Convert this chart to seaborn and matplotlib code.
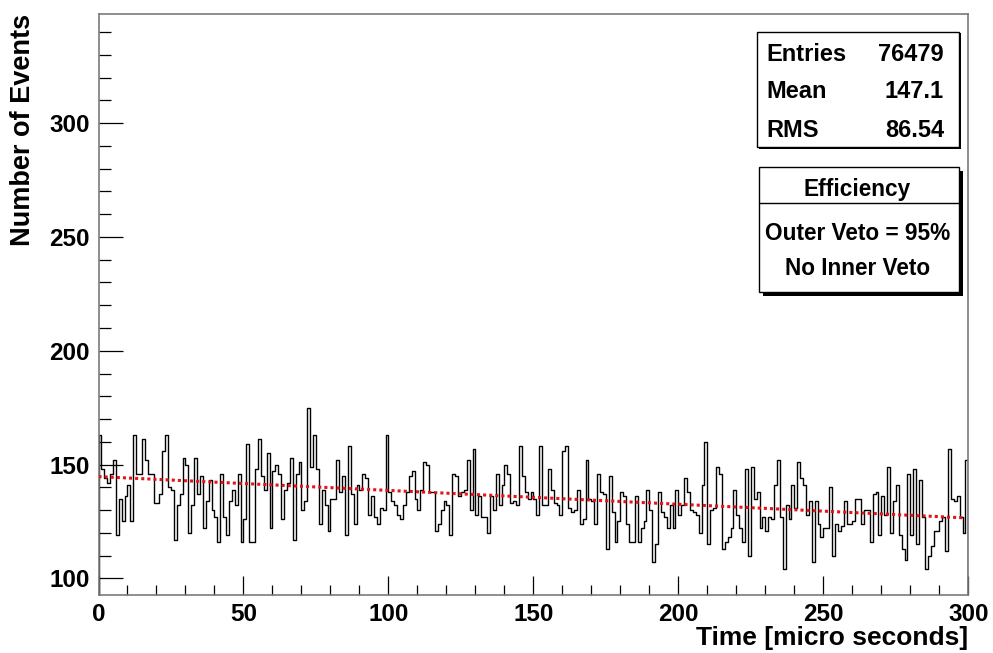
import numpy as np
import pandas as pd
import matplotlib
matplotlib.use("Agg")
import matplotlib.pyplot as plt
import seaborn as sns
from matplotlib.patches import Rectangle
from matplotlib.lines import Line2D

# ---------------- data ----------------
counts_000_049 = [163, 148, 144, 142, 146, 152, 119, 135, 125, 136,
                  141, 125, 163, 146, 146, 161, 152, 146, 146, 133,
                  133, 137, 156, 163, 140, 139, 117, 132, 137, 153,
                  150, 120, 132, 153, 137, 145, 122, 134, 143, 130,
                  127, 116, 146, 127, 119, 134, 139, 132, 146, 116]
counts_050_099 = [126, 159, 116, 116, 148, 161, 145, 139, 155, 122,
                  147, 150, 146, 126, 139, 142, 153, 117, 146, 151,
                  130, 134, 175, 149, 163, 148, 124, 139, 132, 121,
                  135, 135, 152, 138, 145, 119, 158, 137, 124, 141,
                  139, 146, 144, 128, 136, 127, 124, 131, 130, 163]
counts_100_149 = [138, 134, 132, 128, 126, 132, 138, 145, 147, 135,
                  130, 139, 151, 150, 138, 138, 121, 124, 130, 134,
                  132, 119, 146, 145, 136, 138, 139, 152, 130, 157,
                  128, 136, 127, 127, 120, 136, 130, 146, 132, 141,
                  150, 146, 133, 134, 132, 158, 145, 138, 135, 138]
counts_150_199 = [135, 128, 158, 132, 132, 148, 139, 133, 132, 128,
                  156, 158, 131, 129, 130, 139, 124, 126, 152, 135,
                  134, 124, 146, 138, 137, 113, 145, 129, 116, 125,
                  138, 136, 124, 116, 116, 136, 116, 122, 125, 139,
                  130, 107, 115, 138, 129, 127, 122, 132, 122, 139]
counts_200_249 = [128, 132, 144, 138, 130, 129, 128, 120, 141, 160,
                  115, 130, 131, 149, 146, 113, 116, 118, 122, 139,
                  128, 122, 116, 148, 110, 149, 135, 138, 122, 127,
                  121, 127, 126, 141, 152, 127, 104, 132, 126, 141,
                  131, 151, 144, 141, 128, 134, 107, 134, 124, 118]
counts_250_299 = [122, 122, 140, 110, 124, 121, 123, 134, 124, 124,
                  125, 135, 135, 124, 130, 130, 116, 137, 138, 119,
                  136, 128, 149, 120, 134, 141, 119, 113, 108, 146,
                  119, 148, 115, 143, 127, 104, 110, 114, 121, 121,
                  125, 127, 112, 157, 135, 134, 136, 127, 120, 152]

time_start = 0.0
bin_width = 1.0

fit_time = [0.0, 298.0]
fit_events = [144.7, 126.6]

x_ticks = [0, 50, 100, 150, 200, 250, 300]
y_ticks = [100, 150, 200, 250, 300]

stats_labels = ["Entries", "Mean", "RMS"]
stats_values = ["76479", "147.1", "86.54"]
legend_title = "Efficiency"
legend_lines = ["Outer Veto = 95%", "No Inner Veto"]

x_title = "Time [micro seconds]"
y_title = "Number of Events"

# ---------------- build table ----------------
counts = np.array(counts_000_049 + counts_050_099 + counts_100_149 +
                  counts_150_199 + counts_200_249 + counts_250_299, dtype=float)
edges = time_start + bin_width * np.arange(len(counts) + 1)
centers = edges[:-1] + bin_width / 2
df = pd.DataFrame({"time": centers, "events": counts})

# ---------------- style ----------------
sns.set_style("white")
plt.rcParams["font.family"] = ["Liberation Sans", "DejaVu Sans"]
plt.rcParams["font.weight"] = "bold"
for key in ["text.color", "axes.labelcolor", "xtick.color", "ytick.color"]:
    plt.rcParams[key] = "black"

W, H = 993, 653
fig = plt.figure(figsize=(W / 100, H / 100), dpi=100)
fig.patch.set_facecolor("white")
L, R, T, B = 98.5, 968.3, 14.0, 595.0
ax = fig.add_axes([L / W, 1 - B / H, (R - L) / W, (B - T) / H])

YMIN, YMAX = 92.66, 348.0

sns.histplot(data=df, x="time", weights="events",
             binwidth=bin_width, binrange=(float(edges[0]), float(edges[-1])),
             element="step", fill=False, color="black", linewidth=1.0, ax=ax)
# closing verticals at both ends of the histogram, down to the frame
ax.vlines([edges[0], edges[-1]], YMIN, [counts[0], counts[-1]],
          color="black", linewidth=1.0)

sns.lineplot(x=fit_time, y=fit_events, color="#e3131b", linewidth=2.2,
             linestyle=(0, (1, 1)), ax=ax, zorder=5)

ax.set_xlim(edges[0], edges[-1])
ax.set_ylim(YMIN, YMAX)

ax.set_xticks(x_ticks)
ax.set_xticks(np.arange(x_ticks[0], x_ticks[-1] + 1, 10), minor=True)
ax.set_yticks(y_ticks)
ax.set_yticks(np.arange(y_ticks[0], 341, 10), minor=True)
ax.set_xticklabels([str(v) for v in x_ticks])
ax.set_yticklabels([str(v) for v in y_ticks])

ax.tick_params(axis="both", which="both", direction="in", color="black",
               labelcolor="black", width=0.9, labelsize=17.5,
               bottom=True, left=True, top=False, right=False)
ax.tick_params(axis="y", which="major", length=17, pad=6.5)
ax.tick_params(axis="y", which="minor", length=8.6)
ax.tick_params(axis="x", which="major", length=13.7, pad=6)
ax.tick_params(axis="x", which="minor", length=7.2)
for lab in ax.get_xticklabels() + ax.get_yticklabels():
    lab.set_fontweight("bold")

for sp in ax.spines.values():
    sp.set_color("#7a7a7a")
    sp.set_linewidth(1.2)

ax.set_xlabel(x_title, fontsize=19, fontweight="bold", loc="right",
              color="black")
ax.xaxis.set_label_coords(1.0, -(626 - B) / (B - T))
ax.set_ylabel(y_title, fontsize=19.5, fontweight="bold", loc="top",
              color="black")
ax.yaxis.set_label_coords(-(L - 36) / (R - L), 1.0)


# ---------------- stat / info boxes (pixel helpers) ----------------
def fx(px):
    return px / W


def fy(py):
    return 1 - py / H


def box(x0, y0, x1, y1, shadow):
    if shadow > 0:
        fig.add_artist(Rectangle((fx(x0 + shadow), fy(y1 + shadow)),
                                 fx(x1 - x0), (y1 - y0) / H,
                                 transform=fig.transFigure, facecolor="black",
                                 edgecolor="black", linewidth=0, zorder=10))
    fig.add_artist(Rectangle((fx(x0), fy(y1)), fx(x1 - x0), (y1 - y0) / H,
                             transform=fig.transFigure, facecolor="white",
                             edgecolor="black", linewidth=1.0, zorder=11))


box(757.3, 31.7, 959.3, 147.3, 1.5)
row_baselines = [60.7, 98.5, 136.7]
for lab, val, yb in zip(stats_labels, stats_values, row_baselines):
    fig.text(fx(766.7), fy(yb), lab, fontsize=17, fontweight="bold",
             ha="left", va="baseline", zorder=12, color="black")
    fig.text(fx(944.0), fy(yb), val, fontsize=17, fontweight="bold",
             ha="right", va="baseline", zorder=12, color="black")

box(759.3, 167.3, 959.3, 291.7, 4)
fig.add_artist(Line2D([fx(759.3), fx(959.3)], [fy(202.7), fy(202.7)],
                      transform=fig.transFigure, color="black",
                      linewidth=1.0, zorder=12))
fig.text(fx(857.5), fy(196.0), legend_title, fontsize=16.3, fontweight="bold",
         ha="center", va="baseline", zorder=12, color="black")
for txt, yb in zip(legend_lines, [240.0, 275.5]):
    fig.text(fx(857.5), fy(yb), txt, fontsize=16.3, fontweight="bold",
             ha="center", va="baseline", zorder=12, color="black")

fig.savefig("out.png", dpi=100, facecolor="white")
